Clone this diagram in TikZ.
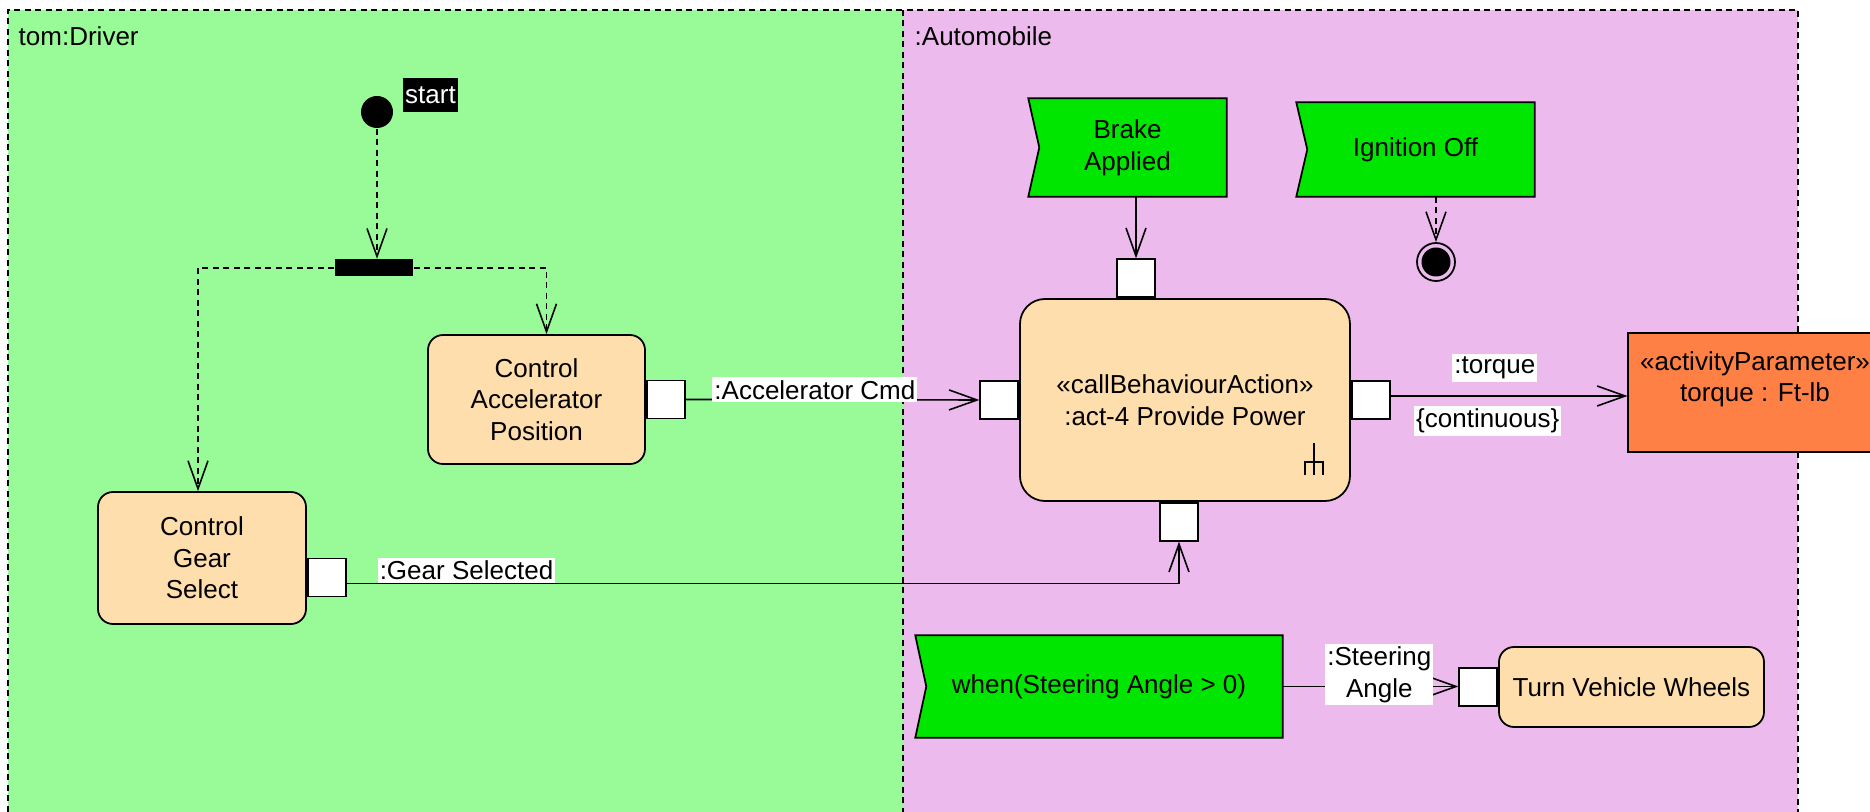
\documentclass[tikz,border=0pt]{standalone}
\usepackage{fontspec}
\setmainfont{Liberation Sans}
\usetikzlibrary{arrows.meta, positioning, backgrounds}
\definecolor{lanegreen}{RGB}{152,251,152}
\definecolor{lanepink}{RGB}{236,186,236}
\definecolor{actionfill}{RGB}{255,222,173}
\definecolor{eventgreen}{RGB}{0,230,0}
\definecolor{paramorange}{RGB}{255,128,68}

\tikzset{
  every node/.style={font=\fontsize{7.4}{9}\selectfont},
  lane/.style={line width=0.5pt, dash pattern=on 0.6mm off 0.45mm},
  action/.style={draw, line width=0.5pt, fill=actionfill, rounded corners=1.5mm, align=center, inner sep=0.5mm},
  pinbox/.style={draw, line width=0.5pt, fill=white, minimum size=3.8mm, inner sep=0pt},
  event/.style={align=center, inner sep=0pt},
  param/.style={draw, line width=0.5pt, fill=paramorange, align=center},
  flow/.style={line width=0.45pt, -{Straight Barb[length=2.8mm, width=2mm]}},
  ctrl/.style={flow, dash pattern=on 0.6mm off 0.45mm},
  lbl/.style={fill=white, align=center, inner xsep=0.2mm, inner ysep=0.3mm}
}

\begin{document}
\begin{tikzpicture}[x=1mm, y=-1mm]
  \useasboundingbox (0,0) rectangle (187,81.2);

  % partitions
  \begin{scope}[on background layer]
    \fill[lanegreen] (0.8,1) rectangle (90.3,81.2);
    \fill[lanepink] (90.3,1) rectangle (179.8,81.2);
    \draw[lane] (0.8,81.2) -- (0.8,1) -- (179.8,1) -- (179.8,81.2);
    \draw[lane] (90.3,1) -- (90.3,81.2);
  \end{scope}
  \node[anchor=base west, inner sep=0pt] (driver) at (1.8,4.6) {tom:Driver};
  \node[anchor=base west, inner sep=0pt] (auto) at (91.4,4.6) {:Automobile};

  % driver side
  \node[circle, fill=black, minimum size=3.2mm, inner sep=0pt] (init) at (37.7,11.2) {};
  \node[fill=black, text=white, inner sep=0.2mm, minimum height=3.4mm] (startlbl) at (43.05,9.5) {start};
  \node[fill=black, minimum width=7.8mm, minimum height=1.7mm, inner sep=0pt] (fork) at (37.4,26.8) {};

  \node[action, minimum width=21.7mm, minimum height=12.9mm] (accel) at (53.65,39.95) {Control\\Accelerator\\Position};
  \node[pinbox, right=0mm of accel] (accelpin) {};
  \node[action, minimum width=20.8mm, minimum height=13.2mm] (gear) at (20.2,55.8) {Control\\Gear\\Select};
  \node[pinbox, right=0mm of gear, yshift=-1.95mm] (gearpin) {};

  % automobile side
  \node[action, rounded corners=2.5mm, minimum width=33mm, minimum height=20.2mm] (power) at (118.5,40) {«callBehaviourAction»\\:act-4 Provide Power};
  \node[pinbox, left=0mm of power] (powerin) {};
  \node[pinbox, right=0mm of power] (powerout) {};
  \node[pinbox, above=0mm of power, xshift=-4.9mm] (powerbrake) {};
  \node[pinbox, below=0mm of power, xshift=-0.6mm] (powergear) {};
  \draw[line width=0.5pt] (131.4,44.3) -- (131.4,47.5) (130.5,47.5) -- (130.5,46.2) -- (132.3,46.2) -- (132.3,47.5);

  \node[event, minimum width=19.7mm, minimum height=9.7mm] (brake) at (112.75,14.75) {Brake\\Applied};
  \node[event, minimum width=23.7mm, minimum height=9.3mm] (ignition) at (141.55,14.95) {Ignition Off};
  \node[event, minimum width=36.6mm, minimum height=10.1mm] (steer) at (109.9,68.65) {when(Steering Angle > 0)};
  \begin{scope}[on background layer]
    \foreach \ev in {brake, ignition, steer}
      \draw[line width=0.5pt, fill=eventgreen] (\ev.north west) -- (\ev.north east) -- (\ev.south east) -- (\ev.south west) -- ([xshift=1.1mm]\ev.west) -- cycle;
  \end{scope}

  \node[circle, draw, line width=0.5pt, minimum size=3.8mm, inner sep=0pt,
        path picture={\fill (path picture bounding box.center) circle (1.45mm);}] (final) at (143.6,26.2) {};

  \node[param, minimum width=25.2mm, minimum height=11.9mm] (torque) at (175.5,39.25) {«activityParameter»\\torque : Ft-lb\\\mbox{}};

  \node[action, minimum width=26.5mm, minimum height=8mm] (wheels) at (163.15,68.7) {Turn Vehicle Wheels};
  \node[pinbox, left=0mm of wheels] (wheelspin) {};

  % flows
  \draw[ctrl] (init) -- (init |- fork.north);
  \draw[ctrl] (fork.east) -| ([xshift=1mm]accel.north);
  \draw[ctrl] (fork.west) -| ([xshift=-0.4mm]gear.north);
  \draw[flow] (accelpin.east) -- (powerin.west) node[lbl, pos=0.44, yshift=1mm] (accellbl) {:Accelerator Cmd};
  \draw[flow] ([yshift=-0.6mm]gearpin.east) -| (powergear.south) node[lbl, pos=0.072, above] (gearlbl) {:Gear Selected};
  \draw[flow] (brake.south -| powerbrake) -- (powerbrake.north);
  \draw[ctrl] (final.north |- ignition.south) -- (final.north);
  \draw[flow] ([yshift=0.4mm]powerout.east) -- ([yshift=0.4mm]powerout.east -| torque.west)
    node[lbl, pos=0.44, above=1.3mm] (torquelbl) {:torque}
    node[lbl, pos=0.41, below=0.9mm] (contlbl) {\{continuous\}};
  \draw[flow] (steer.east) -- (steer.east -| wheelspin.west) node[lbl, pos=0.55, yshift=1.2mm] (steerlbl) {:Steering\\Angle};
\end{tikzpicture}
\end{document}
